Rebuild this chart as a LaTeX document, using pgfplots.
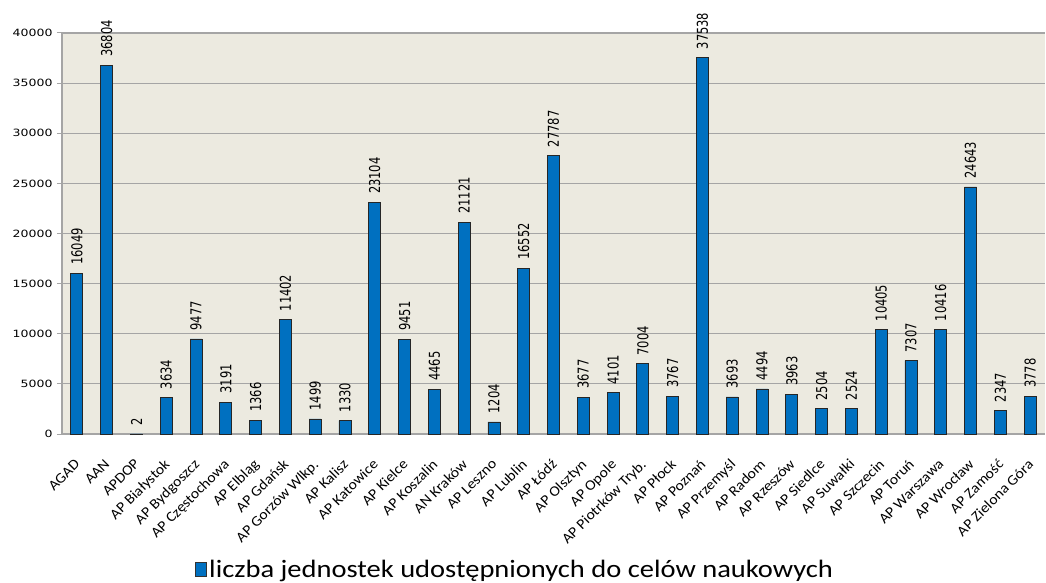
\documentclass[border=0pt]{standalone}
\usepackage{pgfplots}
\pgfplotsset{compat=1.18}
\usepackage{fontspec}
\setmainfont{Carlito}
\newfontfamily\dejavu[FakeStretch=1.25]{DejaVu Sans}
\newfontfamily\dejavuplain{DejaVu Sans}
\newfontfamily\legfont[FakeStretch=1.14]{Carlito}
\newfontfamily\xfont[FakeStretch=1.08]{Carlito}
\definecolor{bg}{RGB}{236,234,224}
\definecolor{barblue}{RGB}{0,112,192}
\definecolor{gridgray}{RGB}{165,165,165}
\begin{document}
\begin{tikzpicture}
\begin{axis}[
  scale only axis,
  width=983pt, height=401pt,
  xmin=-0.5, xmax=32.5,
  ymin=0, ymax=40000,
  ytick distance=5000,
  scaled y ticks=false,
  /pgf/number format/.cd, 1000 sep={}, assume math mode=true, /pgfplots/.cd,
  axis background/.style={fill=bg},
  axis x line*=bottom, axis y line*=left,
  axis line style={-, draw=gridgray, line width=1.2pt},
  ymajorgrids, grid style={draw=gridgray, line width=1.2pt},
  tick align=outside,
  major tick length=5pt,
  ytick style={draw=gridgray, line width=1pt},
  xtick style={draw=none},
  yticklabel style={font=\dejavu\fontsize{10}{12}\selectfont, text=black, xshift=-1pt},
  xtick={0,...,32},
  xticklabels={AGAD,AAN,APDOP,AP Białystok,AP Bydgoszcz,AP Częstochowa,AP Elbląg,AP Gdańsk,AP Gorzów Wlkp.,AP Kalisz,AP Katowice,AP Kielce,AP Koszalin,AN Kraków,AP Leszno,AP Lublin,AP Łódź,AP Olsztyn,AP Opole,AP Piotrków Tryb.,AP Płock,AP Poznań,AP Przemyśl,AP Radom,AP Rzeszów,AP Siedlce,AP Suwałki,AP Szczecin,AP Toruń,AP Warszawa,AP Wrocław,AP Zamość,AP Zielona Góra},
  xticklabel style={xshift=-3pt, yshift=-19pt, rotate=45, anchor=north east, font=\xfont\fontsize{14.5}{14.5}\selectfont, inner sep=0pt},
  ybar, bar width=12pt,
  nodes near coords,
  every node near coord/.append style={rotate=90, yscale=1.3, anchor=west, font=\dejavuplain\fontsize{11.5}{12}\selectfont, inner sep=0pt, xshift=8pt, text=black},
  legend style={at={(0.461,-0.337)}, anchor=center, draw=none, fill=none, font=\legfont\fontsize{25}{25}\selectfont, inner sep=0pt},
  legend image code/.code={\draw[fill=barblue, draw=black!80, line width=1pt] (0pt,-7pt) rectangle (11pt,7pt);},
]
\addplot[fill=barblue, draw=black!85, line width=0.8pt] coordinates {
(0,16049) (1,36804) (2,2) (3,3634) (4,9477) (5,3191) (6,1366) (7,11402)
(8,1499) (9,1330) (10,23104) (11,9451) (12,4465) (13,21121) (14,1204)
(15,16552) (16,27787) (17,3677) (18,4101) (19,7004) (20,3767) (21,37538)
(22,3693) (23,4494) (24,3963) (25,2504) (26,2524) (27,10405) (28,7307)
(29,10416) (30,24643) (31,2347) (32,3778)
};
\addlegendentry{liczba jednostek udostępnionych do celów naukowych}
\end{axis}
\path (current axis.south west) ++(-62pt,-149pt) rectangle ++(1046pt,583pt);
\end{tikzpicture}
\end{document}
